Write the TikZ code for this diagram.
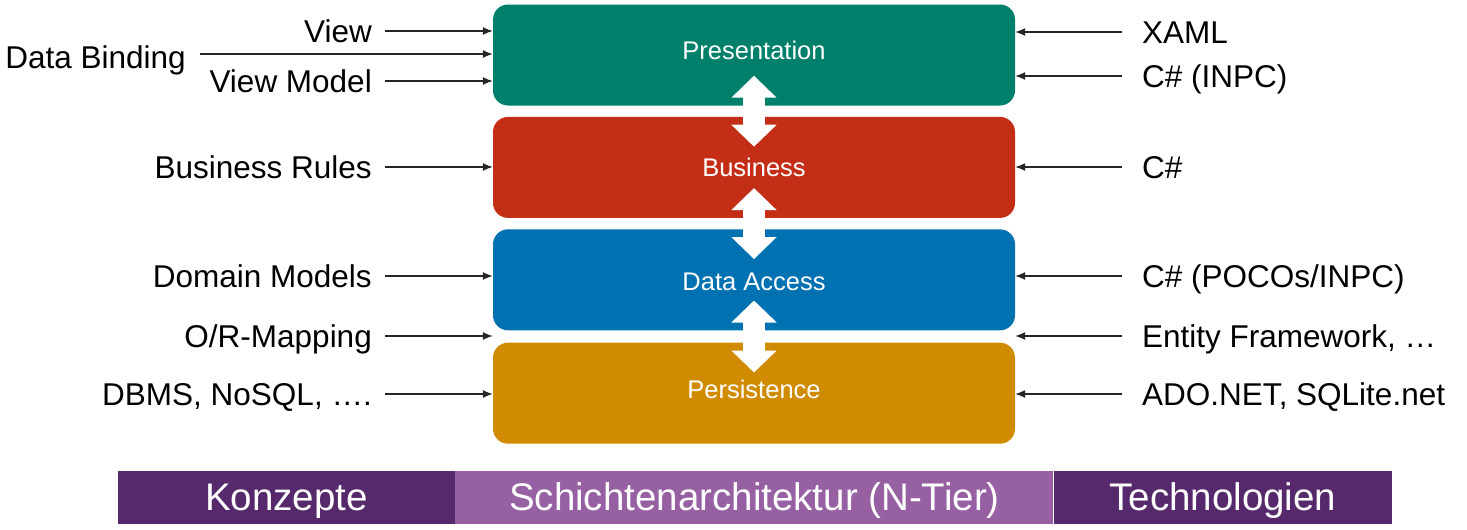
\documentclass[tikz,border=0pt]{standalone}
\usepackage{fontspec}
\setmainfont{Liberation Sans}
\usepackage{tikz}
\usetikzlibrary{arrows.meta,positioning}
\definecolor{presColor}{RGB}{0,127,106}
\definecolor{busColor}{RGB}{196,46,23}
\definecolor{dataColor}{RGB}{0,113,177}
\definecolor{persColor}{RGB}{209,139,0}
\definecolor{darkPurple}{RGB}{86,40,108}
\definecolor{lightPurple}{RGB}{150,96,163}

\begin{document}
\begin{tikzpicture}[x=1pt,y=-1pt,
  layer/.style={rounded corners=15pt, minimum width=522pt, minimum height=101pt, inner sep=0pt, text=white, text height=18.3pt, text depth=0pt, font=\fontsize{25.5}{30}\selectfont},
  lbl/.style={inner sep=0pt, text height=22.6pt, text depth=0pt, font=\fontsize{31.5}{38}\selectfont},
  band/.style={inner sep=0pt, minimum height=53pt, text=white, text height=27.6pt, text depth=0pt, font=\fontsize{38.5}{46}\selectfont},
  feed/.style={line width=1.3pt, black!85, -{Latex[length=10pt,width=8pt]}},
  link/.style={line width=22pt, white, {Triangle[width=44pt,length=22pt]}-{Triangle[width=44pt,length=22pt]}}]

\useasboundingbox (0,0) rectangle (1467,530);

% draw the layers
\node[layer, fill=presColor, text depth=10pt] (pres) at (754,55) {Presentation};
\node[layer, fill=busColor, below=11pt of pres] (bus) {Business};
\node[layer, fill=dataColor, text height=22pt, below=11pt of bus] (dat) {Data Access};
\node[layer, fill=persColor, text depth=7pt, below=12pt of dat] (per) {Persistence};

% the white double arrows between the layers
\foreach \a/\b in {pres/bus, bus/dat, dat/per}
\draw[link] ([yshift=30pt]\a.south) -- ([yshift=-30pt]\b.north);

% concepts on the left
\foreach \nm/\y/\tgt/\txt in {
  lView/31/pres/View,
  lVM/81/pres/View Model,
  lBR/167/bus/Business Rules,
  lDM/276/dat/Domain Models,
  lOR/336/dat/{O/R-Mapping},
  lDB/394/per/{DBMS, NoSQL, ….}}
{
  \node[lbl, anchor=east] (\nm) at (372,\y) {\txt};
  \draw[feed] ([xshift=13pt]\nm.east) -- (\nm.east -| \tgt.west);
}
\node[lbl, anchor=east] (lBind) at (186,57) {Data Binding};
\draw[feed] ([xshift=14pt,yshift=3pt]lBind.east) coordinate (b0) -- (b0 -| pres.west);

% technologies on the right
\foreach \nm/\y/\tgt/\txt in {
  rXaml/32/pres/XAML,
  rInpc/76/pres/C\# (INPC),
  rCs/167/bus/C\#,
  rPoco/276/dat/{C\# (POCOs/INPC)},
  rEF/336/dat/{Entity Framework, …},
  rAdo/394/per/{ADO.NET, SQLite.net}}
{
  \node[lbl, anchor=west] (\nm) at (1142,\y) {\txt};
  \draw[feed] ([xshift=-20pt]\nm.west) -- (\nm.west -| \tgt.east);
}

% the bottom band
\node[band, fill=darkPurple, minimum width=337pt] (konz) at (286.5,497) {Konzepte};
\node[band, fill=lightPurple, minimum width=598pt, right=0pt of konz] (schicht) {Schichtenarchitektur (N-Tier)};
\node[band, fill=darkPurple, minimum width=338pt, right=0pt of schicht] (techn) {Technologien};

\end{tikzpicture}
\end{document}
